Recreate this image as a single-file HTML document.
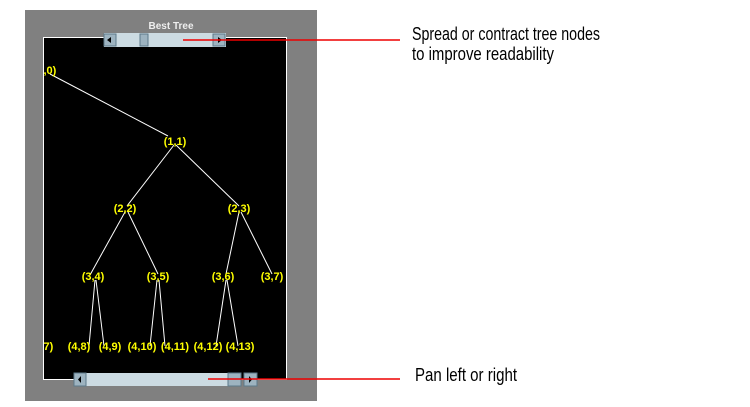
<!DOCTYPE html>
<html><head><style>body{margin:0;background:#fff}svg{display:block}</style></head><body>
<svg width="750" height="407" xmlns="http://www.w3.org/2000/svg" font-family="Liberation Sans, sans-serif">
<rect x="25" y="10" width="292" height="391" fill="#808080"/>
<text x="171" y="29" fill="#eee" font-size="10" font-weight="bold" text-anchor="middle">Best Tree</text>
<rect x="43.5" y="37.5" width="243" height="342" fill="#000" stroke="#fff" stroke-width="1"/>
<g stroke="#fff" stroke-width="1" fill="none">
<line x1="50" y1="74" x2="168" y2="136"/>
<line x1="174" y1="145" x2="127" y2="206"/>
<line x1="176" y1="145" x2="239" y2="206"/>
<line x1="125" y1="212" x2="90" y2="275"/>
<line x1="128" y1="212" x2="158" y2="274"/>
<line x1="239" y1="212" x2="226" y2="274"/>
<line x1="241" y1="212" x2="272" y2="274"/>
<line x1="95" y1="280" x2="89" y2="346"/>
<line x1="96" y1="280" x2="104" y2="346"/>
<line x1="157" y1="280" x2="150" y2="346"/>
<line x1="159" y1="280" x2="165" y2="346"/>
<line x1="226" y1="280" x2="216" y2="346"/>
<line x1="227" y1="280" x2="238" y2="346"/>
</g>
<g fill="#ff0" font-size="11" font-weight="bold" text-anchor="middle">
<text x="45" y="74">(0,0)</text>
<text x="175" y="145">(1,1)</text>
<text x="125" y="212">(2,2)</text>
<text x="239" y="212">(2,3)</text>
<text x="93" y="280">(3,4)</text>
<text x="158" y="280">(3,5)</text>
<text x="223" y="280">(3,6)</text>
<text x="272" y="280">(3,7)</text>
<text x="42" y="350">(4,7)</text>
<text x="79" y="350">(4,8)</text>
<text x="110" y="350">(4,9)</text>
<text x="142" y="350">(4,10)</text>
<text x="175" y="350">(4,11)</text>
<text x="208" y="350">(4,12)</text>
<text x="240" y="350">(4,13)</text>
</g>
<rect x="25" y="37" width="18" height="340" fill="#808080"/>
<rect x="104" y="33" width="122" height="14" fill="#ccdbe2"/>
<rect x="104" y="34" width="12" height="12" fill="#9db3c0" stroke="#5d7a8a"/>
<rect x="213" y="34" width="12" height="12" fill="#9db3c0" stroke="#5d7a8a"/>
<rect x="140" y="34" width="8" height="12" fill="#9db3c0" stroke="#5d7a8a"/>
<path d="M111 37 L107 40 L111 43Z M218 37 L222 40 L218 43Z" fill="#000"/>
<rect x="74" y="373" width="162" height="13" fill="#ccdbe2"/>
<rect x="74" y="373" width="12" height="13" fill="#9db3c0" stroke="#5d7a8a"/>
<rect x="228" y="373" width="13" height="13" fill="#9db3c0" stroke="#5d7a8a"/>
<rect x="244" y="373" width="13" height="13" fill="#9db3c0" stroke="#5d7a8a"/>
<path d="M81 376 L78 379.5 L81 383Z M249 376 L252 379.5 L249 383Z" fill="#000"/>
<line x1="183" y1="40" x2="400" y2="40" stroke="#e00" stroke-width="1.5"/>
<line x1="208" y1="379" x2="400" y2="379" stroke="#e00" stroke-width="1.5"/>
<g fill="#000" font-size="18">
<text x="412" y="40" textLength="188" lengthAdjust="spacingAndGlyphs">Spread or contract tree nodes</text>
<text x="412" y="60" textLength="142" lengthAdjust="spacingAndGlyphs">to improve readability</text>
<text x="415" y="381" textLength="102" lengthAdjust="spacingAndGlyphs">Pan left or right</text>
</g>
</svg>
</body></html>
